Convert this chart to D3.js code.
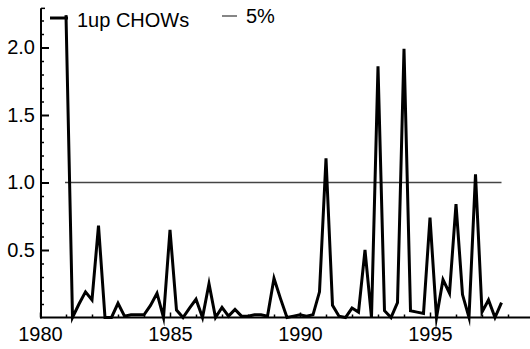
<!DOCTYPE html>
<html>
<head>
<meta charset="utf-8">
<script src="https://cdn.jsdelivr.net/npm/d3@7"></script>
<style>
  body { margin: 0; background: #fff; }
  svg { display: block; }
  text { font-family: "Liberation Sans", Arial, sans-serif; font-size: 20px; fill: #000; }
</style>
</head>
<body>
<div id="chart"></div>
<script>
const width = 530;
const height = 349;

// quarterly 1-step Chow statistics (scaled by 5% critical value), 1981Q1 .. 1997Q4
const startYear = 1981;
const chow = [
  2.24, 0.00, 0.10, 0.19, 0.13, 0.68, 0.00, 0.00,
  0.105, 0.01, 0.02, 0.02, 0.02, 0.09, 0.18, 0.00,
  0.65, 0.055, 0.00, 0.07, 0.135, 0.00, 0.25, 0.00,
  0.075, 0.01, 0.06, 0.01, 0.01, 0.02, 0.02, 0.01,
  0.29, 0.14, 0.00, 0.01, 0.02, 0.01, 0.02, 0.19,
  1.18, 0.09, 0.01, 0.00, 0.07, 0.04, 0.50, 0.00,
  1.86, 0.05, 0.00, 0.11, 1.99, 0.05, 0.04, 0.03,
  0.74, 0.00, 0.28, 0.18, 0.84, 0.17, 0.00, 1.06,
  0.04, 0.13, 0.00, 0.11
];
const fivePct = 1.0;
const yMajor = [0.5, 1.0, 1.5, 2.0];
const xLabels = [1980, 1985, 1990, 1995];

const x = d3.scaleLinear().domain([1980, 2000]).range([40, 560]);
const y = d3.scaleLinear().domain([0, 2.3]).range([317.5, 7]);

const svg = d3.select("#chart").append("svg").attr("width", width).attr("height", height);

const series = chow.map((v, i) => ({ t: startYear + i / 4, v }));
const axisX = 41;

// 5% line
svg.append("line")
  .attr("x1", x(series[0].t) - 1).attr("x2", x(series[series.length - 1].t))
  .attr("y1", y(fivePct)).attr("y2", y(fivePct))
  .attr("stroke", "#444").attr("stroke-width", 1.3);

// Chow line
svg.append("path").datum(series)
  .attr("d", d3.line().x(d => x(d.t)).y(d => y(d.v)))
  .attr("fill", "none").attr("stroke", "#000").attr("stroke-width", 3)
  .attr("stroke-linejoin", "miter").attr("stroke-miterlimit", 10);

// Y axis: minor ticks every 0.1, majors labelled
const minor = d3.range(1, 23).map(d => d / 10).filter(d => !yMajor.some(m => Math.abs(m - d) < 1e-9));
svg.append("g").attr("transform", `translate(${axisX},0)`)
  .call(d3.axisLeft(y).tickValues(minor).tickSizeInner(-3).tickSizeOuter(0).tickFormat(""))
  .call(g => g.select(".domain").remove())
  .call(g => g.selectAll("line").attr("stroke-width", 1.5));

svg.append("g").attr("transform", `translate(${axisX},0)`)
  .call(d3.axisLeft(y).tickValues(yMajor).tickSizeInner(-8).tickSizeOuter(0).tickPadding(6).tickFormat(d3.format(".1f")))
  .call(g => g.select(".domain").remove())
  .call(g => g.selectAll("line").attr("stroke-width", 2))
  .call(g => g.selectAll("text").style("font-family", "Liberation Sans, Arial, sans-serif").style("font-size", "20px").attr("fill", "#000"));

// y axis line with cap at top
svg.append("line").attr("x1", axisX).attr("x2", axisX).attr("y1", y(2.29)).attr("y2", y(0) + 1)
  .attr("stroke", "#000").attr("stroke-width", 2);
svg.append("line").attr("x1", axisX).attr("x2", axisX + 4).attr("y1", y(2.29)).attr("y2", y(2.29))
  .attr("stroke", "#000").attr("stroke-width", 1.5);

// X axis: yearly ticks, labels every 5 years
const years = d3.range(1981, 2000);
svg.append("g").attr("transform", `translate(0,${y(0)})`)
  .call(d3.axisBottom(x).tickValues(years.filter(d => d % 5 !== 0)).tickSizeInner(-3).tickSizeOuter(0).tickFormat(""))
  .call(g => g.select(".domain").remove())
  .call(g => g.selectAll("line").attr("stroke-width", 1.5));

svg.append("g").attr("transform", `translate(0,${y(0)})`)
  .call(d3.axisBottom(x).tickValues(xLabels).tickSizeInner(-5).tickSizeOuter(0).tickPadding(9).tickFormat(d3.format("d")))
  .call(g => g.select(".domain").remove())
  .call(g => g.selectAll("line").attr("stroke-width", 1.5))
  .call(g => g.selectAll("text").style("font-family", "Liberation Sans, Arial, sans-serif").style("font-size", "20px").attr("fill", "#000"));

svg.append("line").attr("x1", axisX - 1).attr("x2", width).attr("y1", y(0)).attr("y2", y(0))
  .attr("stroke", "#000").attr("stroke-width", 2);

// Legend
svg.append("line").attr("x1", 50).attr("x2", 68).attr("y1", 18).attr("y2", 18)
  .attr("stroke", "#000").attr("stroke-width", 3);
svg.append("text").attr("x", 77).attr("y", 26.5).text("1up CHOWs");
svg.append("line").attr("x1", 222).attr("x2", 237).attr("y1", 16).attr("y2", 16)
  .attr("stroke", "#444").attr("stroke-width", 1.3);
svg.append("text").attr("x", 246).attr("y", 22.5).text("5%");
</script>
</body>
</html>
